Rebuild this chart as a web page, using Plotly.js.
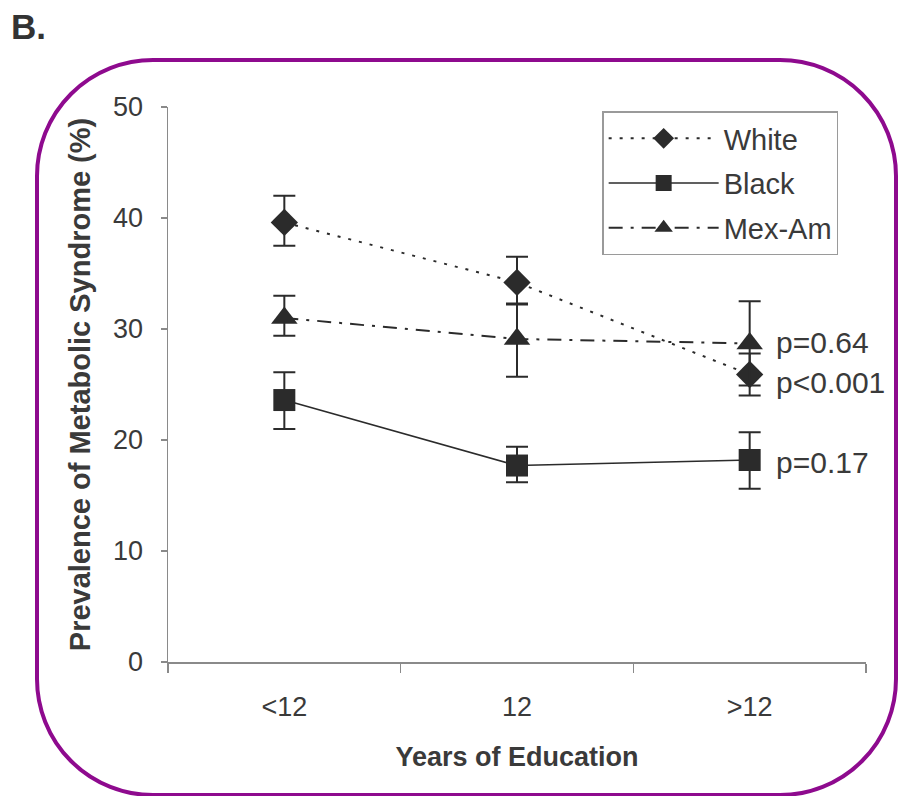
<!DOCTYPE html>
<html>
<head>
<meta charset="utf-8">
<script src="https://cdn.plot.ly/plotly-3.0.1.min.js"></script>
<style>
  html, body { margin: 0; padding: 0; background: #fff; }
  #wrap { position: relative; width: 898px; height: 796px; }
  #chart { width: 898px; height: 796px; }
  #frame { position: absolute; left: 35px; top: 58px; width: 855px; height: 731px;
           border: 4px solid #8e0a8e; border-radius: 118px; pointer-events: none; }
</style>
</head>
<body>
<div id="wrap">
  <div id="chart"></div>
  <div id="frame"></div>
</div>
<script>
// ---- data ----
const categories = ['<12', '12', '>12'];
const whiteVals = [39.6, 34.2, 25.9];
const whiteErrPlus = [2.4, 2.3, 1.9];
const whiteErrMinus = [2.1, 1.9, 1.9];
const blackVals = [23.6, 17.7, 18.2];
const blackErrPlus = [2.5, 1.7, 2.5];
const blackErrMinus = [2.6, 1.5, 2.6];
const mexVals = [31.0, 29.1, 28.7];
const mexErrPlus = [2.0, 3.1, 3.8];
const mexErrMinus = [1.6, 3.4, 3.8];
const seriesNames = ['White', 'Black', 'Mex-Am'];
const pLabels = ['p=0.64', 'p<0.001', 'p=0.17'];
const pLabelY = [28.8, 25.2, 18.0];

const ink = '#2b2b2b';
const txt = '#3a3a3a';
const font = 'Liberation Sans, Arial, sans-serif';

function errs(plus, minus) {
  return { type: 'data', symmetric: false, array: plus, arrayminus: minus,
           color: ink, thickness: 2, width: 11 };
}

const traces = [
  { x: categories, y: whiteVals, name: seriesNames[0], type: 'scatter', mode: 'lines+markers',
    legendgroup: 'a', line: { color: ink, width: 2, dash: '3px,8px' },
    marker: { symbol: 'diamond', size: 21, color: ink }, error_y: errs(whiteErrPlus, whiteErrMinus) },
  { x: categories, y: blackVals, name: seriesNames[1], type: 'scatter', mode: 'lines+markers',
    legendgroup: 'b', line: { color: ink, width: 1.6 },
    marker: { symbol: 'square', size: 22, color: ink }, error_y: errs(blackErrPlus, blackErrMinus) },
  { x: categories, y: mexVals, name: seriesNames[2], type: 'scatter', mode: 'lines+markers',
    legendgroup: 'c', line: { color: ink, width: 2, dash: '14px,8px,3px,8px' },
    marker: { symbol: 'triangle-up', size: 23, color: ink }, error_y: errs(mexErrPlus, mexErrMinus) }
];

const annotations = pLabels.map((t, i) => ({
  x: categories[2], y: pLabelY[i], xref: 'x', yref: 'y', text: t, showarrow: false,
  xanchor: 'left', yanchor: 'middle', xshift: 24, font: { family: font, size: 30, color: txt }
}));
annotations.push({
  x: -0.228, y: 1.145, xref: 'paper', yref: 'paper', text: '<b>B.</b>', showarrow: false,
  xanchor: 'left', yanchor: 'middle', font: { family: font, size: 35, color: '#333' }
});

const layout = {
  width: 898, height: 796,
  margin: { l: 168, r: 32, t: 107, b: 134 },
  paper_bgcolor: '#fff', plot_bgcolor: '#fff',
  font: { family: font, color: txt },
  showlegend: true,
  legend: {
    x: 0.622, y: 0.992, xanchor: 'left', yanchor: 'top',
    bgcolor: '#fff', bordercolor: '#9a9a9a', borderwidth: 1.5,
    font: { family: font, size: 29, color: txt },
    itemwidth: 110, tracegroupgap: 4, traceorder: 'grouped'
  },
  xaxis: {
    type: 'category', range: [-0.5, 2.5], tickson: 'boundaries',
    showline: true, linecolor: '#8a8a8a', linewidth: 1.5,
    ticks: 'outside', ticklen: 9, tickcolor: '#8a8a8a', tickwidth: 1.5,
    ticklabelstandoff: 20,
    tickfont: { family: font, size: 27, color: txt },
    showgrid: false, zeroline: false,
    title: { text: '<b>Years of Education</b>', font: { family: font, size: 27, color: txt }, standoff: 26 }
  },
  yaxis: {
    range: [0, 50], tickvals: [0, 10, 20, 30, 40, 50],
    showline: true, linecolor: '#8a8a8a', linewidth: 1.5,
    ticks: 'outside', ticklen: 6, tickcolor: '#8a8a8a', tickwidth: 1.5,
    ticklabelstandoff: 12,
    tickfont: { family: font, size: 27, color: txt },
    showgrid: false, zeroline: false,
    title: { text: '<b>Prevalence of Metabolic Syndrome (%)</b>', font: { family: font, size: 29, color: txt }, standoff: 14 }
  },
  annotations: annotations
};

Plotly.newPlot('chart', traces, layout, { displayModeBar: false, staticPlot: true });
</script>
</body>
</html>
